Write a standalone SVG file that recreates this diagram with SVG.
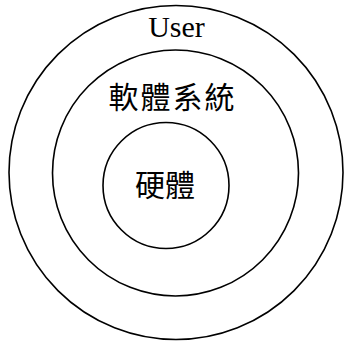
<svg xmlns="http://www.w3.org/2000/svg" width="345" height="348" viewBox="0 0 345 348">
<style>
.ring{fill:none;stroke:#000;stroke-width:1.6}
.en{font-family:"Liberation Serif","Times New Roman",serif;font-size:30px;fill:#000;text-anchor:middle}
.zh{font-family:"Liberation Serif","Noto Sans CJK TC",serif;font-size:30px;fill:#000;text-anchor:middle;dominant-baseline:central}
</style>
<rect width="345" height="348" fill="#fff"/>
<g id="user">
<circle class="ring" cx="176" cy="172.5" r="167"/>
<text class="en" x="176.5" y="37">User</text>
</g>
<g id="software">
<circle class="ring" cx="175.5" cy="173" r="123"/>
<text class="zh" x="172.5" y="97" letter-spacing="2">軟體系統</text>
</g>
<g id="hardware">
<circle class="ring" cx="166" cy="185.5" r="63"/>
<text class="zh" x="165" y="185">硬體</text>
</g>
</svg>
